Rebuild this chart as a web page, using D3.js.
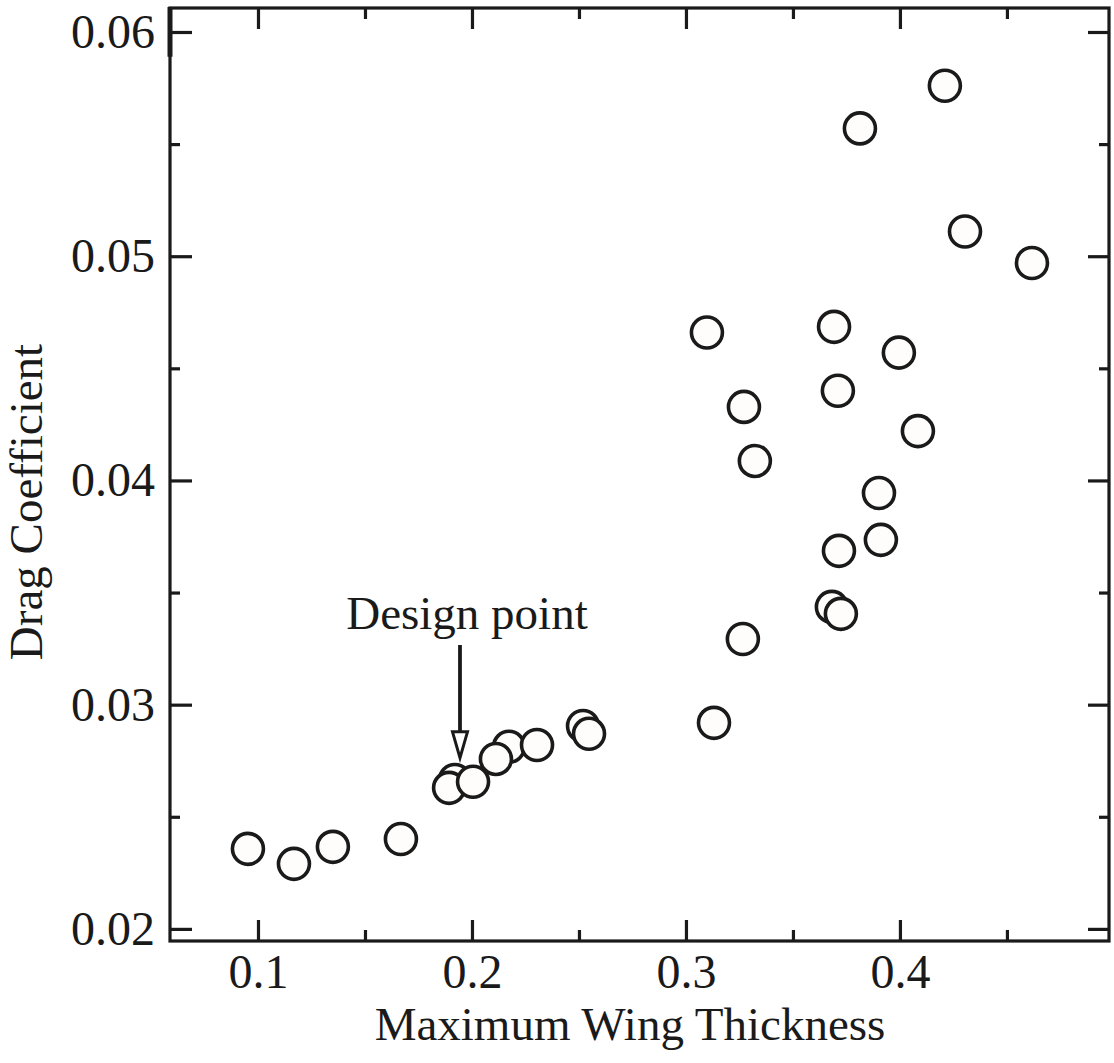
<!doctype html>
<html>
<head>
<meta charset="UTF-8">
<title>Drag coefficient vs maximum wing thickness</title>
<script src="https://cdnjs.cloudflare.com/ajax/libs/d3/7.8.5/d3.min.js"></script>
<style>
	body { margin: 0; background: #fff; }
	svg { display: block; }
	text { font-family: "Liberation Serif", "Times New Roman", serif; fill: #1a1a1a; }
</style>
</head>
<body>
<svg id="chart"></svg>
<script>
(function(){
	'use strict'

	// data (drawn in this order, later circles sit on top)
	const thickness = [0.421, 0.3813, 0.4304, 0.4617, 0.3098, 0.3692, 0.3995,
		0.371, 0.3271, 0.4084, 0.3322, 0.3902, 0.3911, 0.3715, 0.3682, 0.3724, 0.3266, 0.3131,
		0.0953, 0.1168, 0.135, 0.1668, 0.192, 0.1893, 0.2005, 0.2173, 0.2112, 0.2304, 0.2519, 0.2547];
	const drag = [0.0576, 0.0557, 0.0511, 0.0497, 0.0466, 0.04685, 0.0457,
		0.0440, 0.04328, 0.0422, 0.04087, 0.03944, 0.03735, 0.03686, 0.03436, 0.03405, 0.03293, 0.02919,
		0.02357, 0.0229, 0.02366, 0.02401, 0.02664, 0.02629, 0.02656, 0.02812, 0.02758, 0.0282, 0.02905, 0.0287];

	const xMajor = [0.1, 0.2, 0.3, 0.4];
	const xMinor = [0.15, 0.25, 0.35, 0.45];
	const yMajor = [0.02, 0.03, 0.04, 0.05, 0.06];
	const yMinor = [0.025, 0.035, 0.045, 0.055];

	// arrow runs from 'from' down to its tip at 'to'
	const designPoint = {x: 0.1944, label: 'Design point', from: 0.03266, to: 0.02763};

	const width = 1114, height = 1063;
	const left = 170, right = 1109, top = 8, bottom = 941;

	const svg = d3.select('#chart').attr('width', width).attr('height', height);

	const x = d3.scaleLinear().domain([0.05888, 0.4977]).range([left, right]);
	const y = d3.scaleLinear().domain([0.01946, 0.06107]).range([bottom, top]);

	const ink = '#1a1a1a';

	function styleAxis(g){
		g.select('.domain').remove();
		g.selectAll('.tick line').attr('stroke', ink).attr('stroke-width', 3.2);
		g.selectAll('.tick text')
			.attr('font-family', '"Liberation Serif", "Times New Roman", serif')
			.attr('font-size', 48)
			.attr('fill', ink);
	}

	// bottom
	svg.append('g').attr('transform', 'translate(0,' + bottom + ')')
		.call(d3.axisBottom(x).tickValues(xMajor).tickSize(-21).tickPadding(13).tickFormat(d3.format('.1f')))
		.call(styleAxis);
	svg.append('g').attr('transform', 'translate(0,' + bottom + ')')
		.call(d3.axisBottom(x).tickValues(xMinor).tickSize(-11).tickFormat(''))
		.call(styleAxis);
	// top
	svg.append('g').attr('transform', 'translate(0,' + top + ')')
		.call(d3.axisTop(x).tickValues(xMajor).tickSize(-21).tickFormat(''))
		.call(styleAxis);
	svg.append('g').attr('transform', 'translate(0,' + top + ')')
		.call(d3.axisTop(x).tickValues(xMinor).tickSize(-11).tickFormat(''))
		.call(styleAxis);
	// left
	svg.append('g').attr('transform', 'translate(' + left + ',0)')
		.call(d3.axisLeft(y).tickValues(yMajor).tickSize(-22).tickPadding(15).tickFormat(d3.format('.2f')))
		.call(styleAxis);
	svg.append('g').attr('transform', 'translate(' + left + ',0)')
		.call(d3.axisLeft(y).tickValues(yMinor).tickSize(-10).tickFormat(''))
		.call(styleAxis);
	// right
	svg.append('g').attr('transform', 'translate(' + right + ',0)')
		.call(d3.axisRight(y).tickValues(yMajor).tickSize(-21).tickFormat(''))
		.call(styleAxis);
	svg.append('g').attr('transform', 'translate(' + right + ',0)')
		.call(d3.axisRight(y).tickValues(yMinor).tickSize(-10).tickFormat(''))
		.call(styleAxis);

	// frame
	svg.append('rect')
		.attr('x', left).attr('y', top)
		.attr('width', right - left).attr('height', bottom - top)
		.attr('fill', 'none').attr('stroke', ink).attr('stroke-width', 3.2);
	// slightly heavier piece of the left spine near the top
	svg.append('line')
		.attr('x1', left).attr('x2', left)
		.attr('y1', top - 1).attr('y2', y(0.0597) + 18)
		.attr('stroke', ink).attr('stroke-width', 5);

	// axis titles
	svg.append('text')
		.attr('x', 630).attr('y', 1040)
		.attr('text-anchor', 'middle')
		.attr('font-size', 47)
		.text('Maximum Wing Thickness');

	svg.append('text')
		.attr('transform', 'translate(42,502) rotate(-90)')
		.attr('text-anchor', 'middle')
		.attr('font-size', 47)
		.text('Drag Coefficient');

	// points
	const pts = thickness.map(function(t, i){ return {t: t, c: drag[i]}; });
	svg.append('g').selectAll('circle')
		.data(pts)
		.enter().append('circle')
		.attr('cx', function(d){ return x(d.t); })
		.attr('cy', function(d){ return y(d.c); })
		.attr('r', 15.5)
		.attr('fill', '#fffdfb')
		.attr('stroke', ink)
		.attr('stroke-width', 3.6);

	// design point annotation
	svg.append('text')
		.attr('x', x(designPoint.x) + 7).attr('y', 629)
		.attr('text-anchor', 'middle')
		.attr('font-size', 47)
		.text(designPoint.label);

	const ax = x(designPoint.x);
	const tipY = y(designPoint.to);
	svg.append('line')
		.attr('x1', ax).attr('x2', ax)
		.attr('y1', y(designPoint.from)).attr('y2', tipY - 24)
		.attr('stroke', ink).attr('stroke-width', 3.8);
	svg.append('path')
		.attr('d', 'M' + (ax - 7.5) + ',' + (tipY - 26) +
			' L' + (ax + 7.5) + ',' + (tipY - 26) +
			' L' + ax + ',' + tipY + ' Z')
		.attr('fill', '#fff').attr('stroke', ink).attr('stroke-width', 3)
		.attr('stroke-linejoin', 'miter');
})();
</script>
</body>
</html>
